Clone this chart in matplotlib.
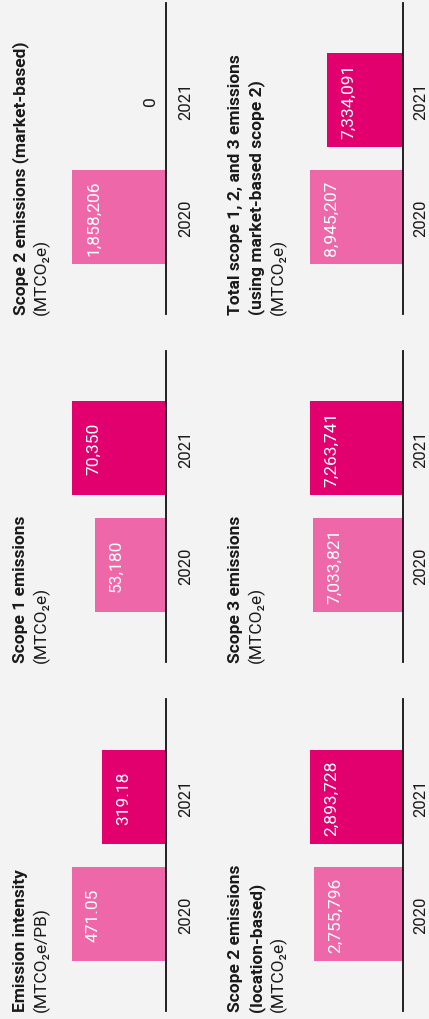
import matplotlib
matplotlib.use("Agg")
import matplotlib.pyplot as plt
from matplotlib import font_manager

# ---------------- data ----------------
years = ["2020", "2021"]
panel_titles = [
    [("Emission intensity", True), ("(MTCO\u2082e/PB)", False)],
    [("Scope 1 emissions", True), ("(MTCO\u2082e)", False)],
    [("Scope 2 emissions (market-based)", True), ("(MTCO\u2082e)", False)],
    [("Scope 2 emissions", True), ("(location-based)", True), ("(MTCO\u2082e)", False)],
    [("Scope 3 emissions", True), ("(MTCO\u2082e)", False)],
    [("Total scope 1, 2, and 3 emissions", True), ("(using market-based scope 2)", True), ("(MTCO\u2082e)", False)],
]
values_2020 = [471.05, 53180, 1858206, 2755796, 7033821, 8945207]
values_2021 = [319.18, 70350, 0, 2893728, 7263741, 7334091]
value_labels_2020 = ["471.05", "53,180", "1,858,206", "2,755,796", "7,033,821", "8,945,207"]
value_labels_2021 = ["319.18", "70,350", "0", "2,893,728", "7,263,741", "7,334,091"]

# ---------------- style ----------------
BG = "#f3f3f3"
C2020 = "#ee68a9"
C2021 = "#e2006f"
TXT = "#1a1a1a"

def pick(names):
    for n in names:
        try:
            font_manager.findfont(font_manager.FontProperties(family=n), fallback_to_default=False)
            return n
        except Exception:
            pass
    return "DejaVu Sans"

FONT = pick(["Roboto", "DejaVu Sans"])
plt.rcParams["font.family"] = [FONT, "DejaVu Sans"]

W, H = 429, 1020
fig = plt.figure(figsize=(W / 100, H / 100), dpi=100, facecolor=BG)

# layout in pixels (from top-left)
rows = [(700, 1012), (352, 663), (4, 315)]     # bottom, middle, top (top px, bottom px)
cols = [(72, 166), (310, 403)]                 # axes left px, baseline px
year_off = [24, 22]
panel_pos = [(0, 0), (0, 1), (0, 2), (1, 0), (1, 1), (1, 2)]

unit = 117.0
for i, (ci, ri) in enumerate(panel_pos):
    x0, x1 = cols[ci]
    t, b = rows[ri]
    ax = fig.add_axes([x0 / W, 1 - b / H, (x1 - x0) / W, (b - t) / H])
    ax.set_facecolor("none")
    vals = [values_2020[i], values_2021[i]]
    labs = [value_labels_2020[i], value_labels_2021[i]]
    vmax = max(vals)
    ypos = [0, 1]
    ax.barh(ypos, vals, height=94 / unit, color=[C2020, C2021], align="center")
    ax.set_xlim(vmax, 0)
    bottom_units = 97 / unit
    ax.set_ylim(-bottom_units, -bottom_units + (b - t) / unit)
    for s in ["top", "left", "bottom"]:
        ax.spines[s].set_visible(False)
    ax.spines["right"].set_linewidth(1.3)
    ax.spines["right"].set_color("#111111")
    ax.set_xticks([])
    ax.set_yticks([])
    for y, v, lab in zip(ypos, vals, labs):
        if v > 0:
            ax.annotate(lab, xy=(v, y), xytext=(26 * 0.72, 0), textcoords="offset points",
                        rotation=90, rotation_mode="anchor", ha="center", va="baseline",
                        color="white", fontsize=12.5)
        else:
            ax.annotate(lab, xy=(0, y), xytext=(-11 * 0.72, 0), textcoords="offset points",
                        rotation=90, rotation_mode="anchor", ha="center", va="baseline",
                        color=TXT, fontsize=12.5)
        ax.annotate(years[y], xy=(1, y), xycoords=("axes fraction", "data"),
                    xytext=(year_off[ci] * 0.72, 0), textcoords="offset points",
                    rotation=90, rotation_mode="anchor", ha="center", va="baseline",
                    color=TXT, fontsize=12)
    # titles
    xs = [25, 46] if ci == 0 else [240, 261, 283]
    for (txt, bold), xp in zip(panel_titles[i], xs):
        fig.text(xp / W, 1 - b / H, txt, rotation=90, rotation_mode="anchor",
                 ha="left", va="baseline", fontsize=12.5,
                 fontweight="bold" if bold else "normal", color=TXT)

fig.savefig("out.png", dpi=100, facecolor=BG)
